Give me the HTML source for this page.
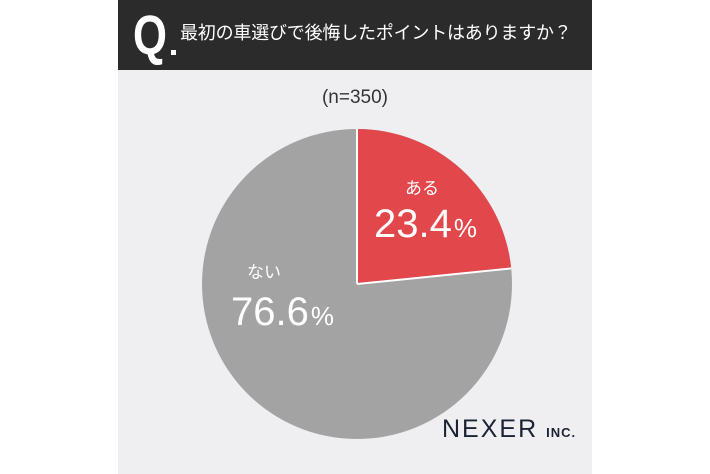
<!DOCTYPE html>
<html><head><meta charset="utf-8"><style>
body{margin:0;width:710px;height:474px;background:#fff;position:relative;overflow:hidden;font-family:"Liberation Sans","Noto Sans CJK JP",sans-serif}
#panel{position:absolute;left:118px;top:0;width:474px;height:474px;background:#efeff1}
#hdr{position:absolute;left:118px;top:0;width:474px;height:70px;background:#2b2b2b;color:#fff}
</style></head><body>
<div id="panel"></div>
<div id="hdr">
<div style="position:absolute;left:15px;top:6px;font-size:56px;line-height:58px;font-weight:bold;transform:scaleX(0.78);transform-origin:left">Q</div>
<div style="position:absolute;left:53px;top:50px;width:5px;height:5px;background:#fff"></div>
<div style="position:absolute;left:62px;top:21px;font-size:18px;line-height:24px;white-space:nowrap;letter-spacing:-0.2px">最初の車選びで後悔したポイントはありますか？</div>
</div>
<div style="position:absolute;left:118px;width:474px;top:87px;text-align:center;font-size:19px;color:#333">(n=350)</div>
<svg style="position:absolute;left:0;top:0" width="710" height="474">
<circle cx="357" cy="284" r="155" fill="#a3a3a3"/>
<path d="M357,284 L357,129 A155,155 0 0 1 511.2,268.4 Z" fill="#e2474b"/>
<line x1="357" y1="284" x2="357" y2="129" stroke="#fff" stroke-width="2"/>
<line x1="357" y1="284" x2="511.2" y2="268.4" stroke="#fff" stroke-width="2"/>
</svg>
<div style="position:absolute;left:405px;top:174px;font-size:17px;color:#fff">ある</div>
<div style="position:absolute;left:374px;top:202px;font-size:40px;color:#fff;white-space:nowrap">23.4<span style="font-size:26px;margin-left:2px">%</span></div>
<div style="position:absolute;left:247px;top:258px;font-size:17px;color:#fff">ない</div>
<div style="position:absolute;left:231px;top:290px;font-size:40px;color:#fff;white-space:nowrap">76.6<span style="font-size:26px;margin-left:2px">%</span></div>
<div style="position:absolute;left:442px;top:415px;font-size:25px;color:#1c2236;letter-spacing:2px;white-space:nowrap">NEXER<span style="font-size:13px;font-weight:bold;margin-left:8px;letter-spacing:1px">INC.</span></div>
</body></html>
